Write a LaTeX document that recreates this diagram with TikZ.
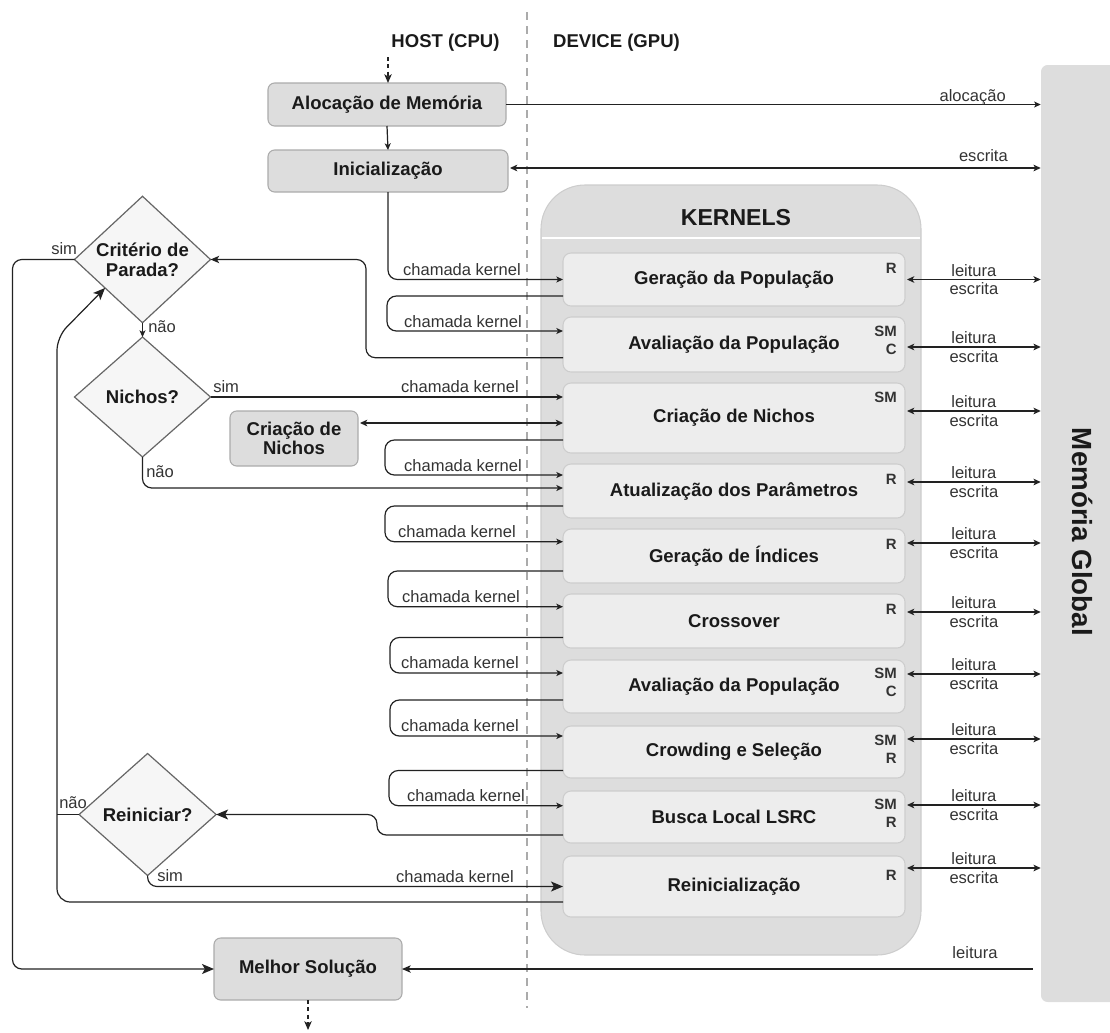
\documentclass[tikz,border=0pt]{standalone}
\usepackage{fontspec}
\setmainfont{Liberation Sans}
\usetikzlibrary{arrows.meta,shapes.geometric,calc}
\definecolor{hostfill}{HTML}{DDDDDD}
\definecolor{hostdraw}{HTML}{ABABAB}
\definecolor{kfill}{HTML}{EDEDED}
\definecolor{kdraw}{HTML}{CDCDCD}
\definecolor{cfill}{HTML}{DDDDDD}
\definecolor{dfill}{HTML}{F6F6F6}
\definecolor{ddraw}{HTML}{666666}
\definecolor{lnc}{HTML}{222222}
\definecolor{txt}{HTML}{1A1A1A}
\definecolor{lblc}{HTML}{333333}
\definecolor{divc}{HTML}{ABABAB}
\tikzset{
 x=0.75pt,y=-0.75pt,
 bigtxt/.style={font=\fontsize{13.9}{14}\selectfont\bfseries, text=txt},
 hostbox/.style={bigtxt, draw=hostdraw, fill=hostfill, rounded corners=5pt, inner sep=0pt, outer sep=0pt, line width=0.8pt, align=center},
 kbox/.style={bigtxt, draw=kdraw, fill=kfill, rounded corners=6pt, inner sep=0pt, outer sep=0pt, line width=0.8pt, minimum width=256.5pt},
 dec/.style={font=\fontsize{13.9}{15}\selectfont\bfseries, text=txt, diamond, draw=ddraw, fill=dfill, inner sep=0pt, outer sep=0pt, line width=0.9pt, align=center},
 lbl/.style={font=\fontsize{12.4}{14}\selectfont, text=lblc, inner sep=0pt},
 tag/.style={font=\fontsize{11.2}{13}\selectfont\bfseries, text=lblc, inner sep=0pt, align=right, anchor=north east},
 conn/.style={draw=lnc, line width=0.9pt, -{Stealth[length=5pt,width=4.5pt,inset=1.3pt]}},
 mconn/.style={draw=lnc, line width=0.9pt, -{Stealth[length=6.5pt,width=5.5pt,inset=1.6pt]}},
 bconn/.style={draw=lnc, line width=0.9pt, -{Stealth[length=9pt,width=7.5pt,inset=2.2pt]}},
 dconn/.style={draw=lnc, line width=0.9pt, {Stealth[length=5.5pt,width=5pt,inset=1.5pt]}-{Stealth[length=5.5pt,width=5pt,inset=1.5pt]}},
 plain/.style={draw=lnc, line width=0.9pt},
 rc/.style={rounded corners=7pt},
}
\newcommand{\memlink}[3]{%
  \path ($(#1.east)+(2,#2)$) coordinate (#3);
  \draw[dconn] (#3) -- (#3 -| mem.west) node[midway, lbl, align=center] (#3t) {leitura\\escrita};}
\begin{document}
\begin{tikzpicture}
\useasboundingbox (0,0) rectangle (1110,1032);

% divider
\draw[divc, line width=1.5pt, dash pattern=on 6pt off 4.5pt] (527,12) -- (527,1008);

% titles
\node[bigtxt] (host) at (445.5,43) {HOST (CPU)};
\node[bigtxt] (dev) at (616.5,43) {DEVICE (GPU)};

% memory
\node[fill=cfill, rounded corners=5pt, minimum width=59.25pt, minimum height=702.75pt, inner sep=0pt] (mem) at (1080.5,533.5) {};
\node[font=\fontsize{20.8}{21}\selectfont\bfseries, text=txt, rotate=-90] (memtxt) at (1083,532) {Memória Global};

% kernels container
\node[draw=kdraw, fill=cfill, rounded corners=33pt, minimum width=285pt, minimum height=577.5pt, inner sep=0pt, line width=0.8pt] (kern) at (731,570) {};
\draw[white, line width=1.2pt] (542,238) -- (920,238);
\node[font=\fontsize{17.3}{18}\selectfont\bfseries, text=txt] (kt) at (736,218) {KERNELS};

% host boxes
\node[hostbox, minimum width=178.5pt, minimum height=32.25pt] (alloc) at (387,104.5) {Alocação de Memória};
\node[hostbox, minimum width=180pt, minimum height=31.5pt] (init) at (388,171) {Inicialização};
\node[hostbox, minimum width=96pt, minimum height=41.25pt, font=\fontsize{13.9}{13.8}\selectfont\bfseries] (chost) at (294,438.5) {Criação de\\Nichos};
\node[hostbox, minimum width=141pt, minimum height=46.5pt] (melhor) at (308,969) {Melhor Solução};

% decisions
\node[dec, minimum width=102pt, minimum height=91.5pt] (crit) at (142.5,259.5) {Critério de\\Parada?};
\node[dec, minimum width=102pt, minimum height=90pt] (nichos) at (142.5,397) {Nichos?};
\node[dec, minimum width=102.75pt, minimum height=91.5pt] (reinic) at (147.6,814.5) {Reiniciar?};

% kernel boxes
\node[kbox, minimum height=39.75pt] (gerpop) at (734,279.5) {Geração da População};
\node[kbox, minimum height=41.25pt] (avpop1) at (734,344.5) {Avaliação da População};
\node[kbox, minimum height=52.5pt] (criN) at (734,418) {Criação de Nichos};
\node[kbox, minimum height=40.5pt] (atual) at (734,491) {Atualização dos Parâmetros};
\node[kbox, minimum height=40.5pt] (gerInd) at (734,556) {Geração de Índices};
\node[kbox, minimum height=40.5pt] (cross) at (734,621) {Crossover};
\node[kbox, minimum height=39.75pt] (avpop2) at (734,686.5) {Avaliação da População};
\node[kbox, minimum height=39pt] (crowd) at (734,752) {Crowding e Seleção};
\node[kbox, minimum height=39pt] (busca) at (734,817) {Busca Local LSRC};
\node[kbox, minimum height=45.75pt] (reinit) at (734,886.5) {Reinicialização};

% tags
\node[tag] (tg1) at ($(gerpop.north east)+(-8,10)$) {R};
\node[tag] (tg2) at ($(avpop1.north east)+(-8,9)$) {SM\\C};
\node[tag] (tg3) at ($(criN.north east)+(-8,9)$) {SM};
\node[tag] (tg4) at ($(atual.north east)+(-8,10)$) {R};
\node[tag] (tg5) at ($(gerInd.north east)+(-8,10)$) {R};
\node[tag] (tg6) at ($(cross.north east)+(-8,10)$) {R};
\node[tag] (tg7) at ($(avpop2.north east)+(-8,8)$) {SM\\C};
\node[tag] (tg8) at ($(crowd.north east)+(-8,9)$) {SM\\R};
\node[tag] (tg9) at ($(busca.north east)+(-8,8)$) {SM\\R};
\node[tag] (tg10) at ($(reinit.north east)+(-8,14)$) {R};

% memory links
\memlink{gerpop}{0}{m1}
\memlink{avpop1}{2.5}{m2}
\memlink{criN}{-7}{m3}
\memlink{atual}{-9}{m4}
\memlink{gerInd}{-13}{m5}
\memlink{cross}{-9}{m6}
\memlink{avpop2}{-12.5}{m7}
\memlink{crowd}{-13}{m8}
\memlink{busca}{-12}{m9}
\memlink{reinit}{-18.5}{m10}

% host <-> memory
\coordinate (start) at (388,57);
\draw[mconn, dash pattern=on 3pt off 2.5pt] (start) -- (start |- alloc.north);
\draw[conn] (alloc.south) -- (init.north);
\draw[conn] (alloc.east) -- (alloc.east -| mem.west);
\node[lbl, anchor=base east] (lalloc) at (1006,101) {alocação};
\path ($(init.east)+(2,-3)$) coordinate (ie);
\draw[dconn] (ie) -- (ie -| mem.west);
\node[lbl, anchor=base east] (lesc) at (1008,161) {escrita};
\draw[mconn] ($(melhor.east -| mem.west)+(-8,0)$) -- (melhor.east);
\node[lbl] (lleit) at (975,953) {leitura};
\draw[mconn, dash pattern=on 3pt off 2.5pt] (melhor.south) -- ++(0,30);

% kernel calls
\draw[conn, rc] (init.south) |- (gerpop.west);
\draw[conn, rc] ($(gerpop.west)+(0,16.5)$) -- ++(-176,0) |- ($(avpop1.west)+(0,-13.5)$);
\draw[mconn, rc] ($(avpop1.west)+(0,13.2)$) -- ++(-197,0) |- (crit.east);
\draw[conn] (nichos.east) -- (nichos.east -| criN.west);
\path ($(chost.east)+(2,-15.5)$) coordinate (ce);
\draw[dconn] (ce) -- (ce -| criN.west);
\draw[conn, rc] ($(criN.west)+(0,22)$) -- ++(-178,0) |- ($(atual.west)+(0,-16)$);
\draw[conn, rc] (nichos.south) |- ($(atual.west)+(0,-3)$);
\draw[conn, rc] ($(atual.west)+(0,15)$) -- ++(-178,0) |- ($(gerInd.west)+(0,-14.3)$);
\draw[conn, rc] ($(gerInd.west)+(0,15)$) -- ++(-175,0) |- ($(cross.west)+(0,-14.3)$);
\draw[conn, rc] ($(cross.west)+(0,16.5)$) -- ++(-173,0) |- ($(avpop2.west)+(0,-13.5)$);
\draw[conn, rc] ($(avpop2.west)+(0,13.5)$) -- ++(-173,0) |- ($(crowd.west)+(0,-16)$);
\draw[conn, rc] ($(crowd.west)+(0,18.5)$) -- ++(-174,0) |- ($(busca.west)+(0,-11.3)$);
\draw[bconn, rc] ($(busca.west)+(0,18)$) -- ++(-186,0) |- (reinic.east);
\draw[bconn, rc] (reinic.south) |- (reinit.west);
\draw[bconn, rounded corners=10pt] ($(reinit.west)+(0,15.5)$) -- ++(-506,0) -- ++(0,-565) -- ($(crit.west)!0.45!(crit.south)$);
\draw[plain] (reinic.west) -- ++(-22,0);
\draw[bconn, rc] (crit.west) -- ++(-62,0) |- (melhor.west);
\draw[conn] (crit.south) -- (nichos.north);

% labels
\node[lbl, anchor=base west] (s1) at (51,254) {sim};
\node[lbl, anchor=base west] (n1) at (148,332) {não};
\node[lbl, anchor=base west] (s2) at (213,392) {sim};
\node[lbl, anchor=base west] (n2) at (146,477) {não};
\node[lbl, anchor=base west] (n3) at (59,808) {não};
\node[lbl, anchor=base west] (s3) at (157,881) {sim};
\node[lbl, anchor=base east] (k1) at (521,275) {chamada kernel};
\node[lbl, anchor=base east] (k2) at (522,327) {chamada kernel};
\node[lbl, anchor=base east] (k3) at (519,392) {chamada kernel};
\node[lbl, anchor=base east] (k4) at (522,471) {chamada kernel};
\node[lbl, anchor=base east] (k5) at (516,537) {chamada kernel};
\node[lbl, anchor=base east] (k6) at (520,602) {chamada kernel};
\node[lbl, anchor=base east] (k7) at (519,668) {chamada kernel};
\node[lbl, anchor=base east] (k8) at (519,731) {chamada kernel};
\node[lbl, anchor=base east] (k9) at (525,801) {chamada kernel};
\node[lbl, anchor=base east] (k10) at (514,882) {chamada kernel};
\end{tikzpicture}
\end{document}
